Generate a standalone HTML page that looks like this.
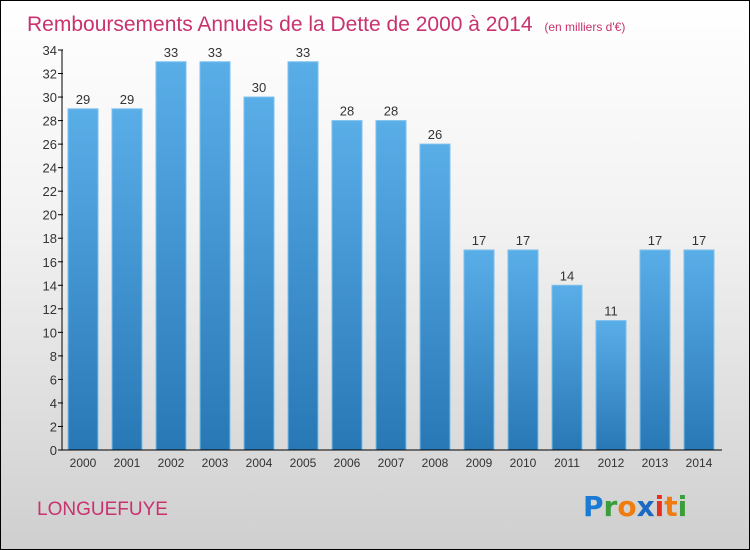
<!DOCTYPE html>
<html><head><meta charset="utf-8"><style>
body{margin:0}
#c{position:relative;width:748px;height:548px;border:1px solid #000;background:linear-gradient(#fff,#f2f2f2 40%,#cfcfcf);font-family:"Liberation Sans",sans-serif;overflow:hidden}
</style></head><body>
<div id="c">
<svg id="s" width="748" height="548">
<defs><linearGradient id="g" x1="0" y1="0" x2="0" y2="1"><stop offset="0" stop-color="#5aaee8"/><stop offset="1" stop-color="#2878b6"/></linearGradient></defs>
<text x="26" y="30" font-size="21" fill="#c8326e">Remboursements Annuels de la Dette de 2000 à 2014 <tspan font-size="12" dx="6">(en milliers d'€)</tspan></text>
<text x="36" y="514" font-size="19" fill="#c8326e">LONGUEFUYE</text>
<g font-size="28" font-weight="bold" font-family="'DejaVu Sans',sans-serif">
<text x="582" y="515"><tspan fill="#1a7ad4">P</tspan><tspan fill="#3a9e3a">r</tspan><tspan fill="#f07c10">o</tspan><tspan fill="#1a6ac4">x</tspan><tspan fill="#e83020">i</tspan><tspan fill="#f07c10">t</tspan><tspan fill="#3a9e3a">i</tspan></text></g>
<g id="plot"></g>
</svg></div>
<script>
const years=["2000","2001","2002","2003","2004","2005","2006","2007","2008","2009","2010","2011","2012","2013","2014"];
const values=[29,29,33,33,30,33,28,28,26,17,17,14,11,17,17];
const yTicks=[0,2,4,6,8,10,12,14,16,18,20,22,24,26,28,30,32,34];
const NS="http://www.w3.org/2000/svg";
const g=document.getElementById('plot');
const x0=61,x1=721,y0=449,yTop=49,yMax=34;
const y=v=>y0-(v/yMax)*(y0-yTop);
const slot=(x1-x0)/years.length;
const xc=i=>x0+slot*i+slot/2-1;
function el(t,a){const e=document.createElementNS(NS,t);for(const k in a)e.setAttribute(k,a[k]);g.appendChild(e);return e;}
values.forEach((v,i)=>{
 const r=el('rect',{x:xc(i)-15,y:y(v),width:30,height:y0-y(v),fill:'url(#g)',stroke:'#7cc0ee','stroke-width':1});
 
 
 const t=el('text',{x:xc(i),y:y(v)-5,'text-anchor':'middle','font-size':13,fill:'#333'});
 t.textContent=v;
 
 
 const l=el('text',{x:xc(i),y:466,'text-anchor':'middle','font-size':12,fill:'#333'});
 l.textContent=years[i];
 
 
});
yTicks.forEach(v=>{
 const tk=el('line',{x1:x0-4,x2:x0+1,y1:y(v),y2:y(v),stroke:'#000'});
 
 
 const t=el('text',{x:x0-5,y:y(v)+5,'text-anchor':'end','font-size':13,fill:'#333'});
 t.textContent=v;
 
 
});
const ya=el('line',{x1:x0,x2:x0,y1:yTop,y2:y0,stroke:'#000'});


const xa=el('line',{x1:x0,x2:x1,y1:y0,y2:y0,stroke:'#000'});


</script>
</body></html>
